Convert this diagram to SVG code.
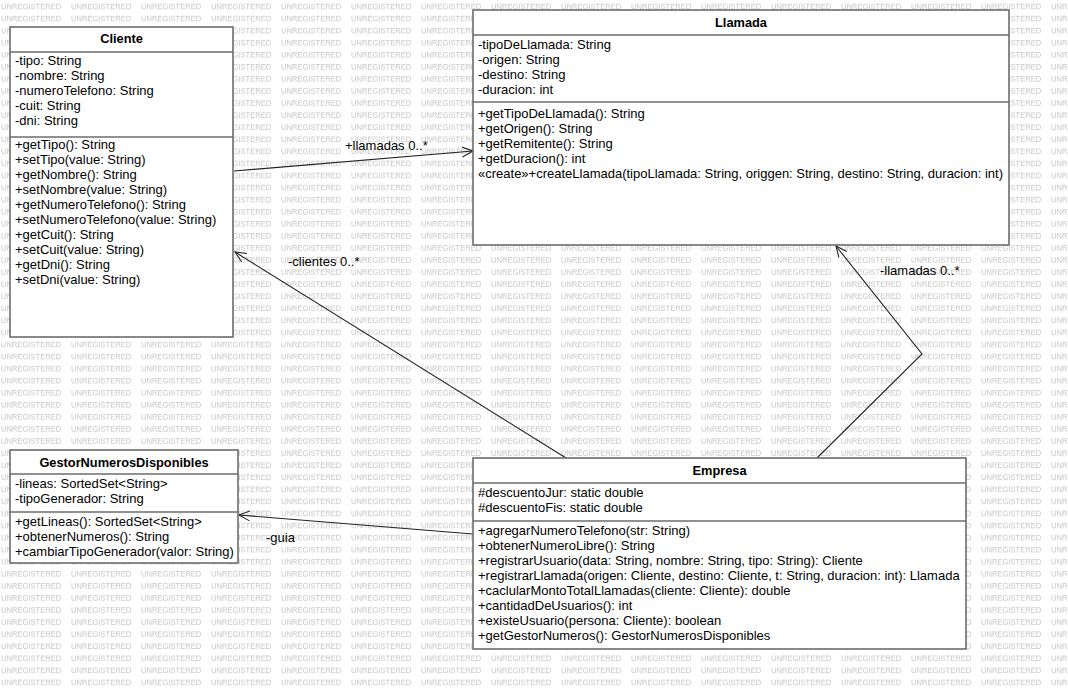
<svg xmlns="http://www.w3.org/2000/svg" width="1068" height="689" viewBox="0 0 1068 689">
<style>
.box{fill:#fff;stroke:#6c6c6c;stroke-width:1.6}
.sep{stroke:#6c6c6c;stroke-width:1.6}
.t{font-family:"Liberation Sans",Arial,sans-serif;font-size:13px;fill:#000}
.h{font-family:"Liberation Sans",Arial,sans-serif;font-size:12.8px;font-weight:bold;fill:#000;text-anchor:middle}
.wm{font-family:"Liberation Sans",Arial,sans-serif;font-size:7.6px;fill:#c6c6c6}
.edge{fill:none;stroke:#222;stroke-width:1.1}
</style>
<defs>
<pattern id="wmark" patternUnits="userSpaceOnUse" x="0" y="0" width="70" height="12.07">
<text class="wm" x="1" y="9.3">UNREGISTERED</text>
</pattern>
<marker id="open" viewBox="0 0 12 12" refX="11" refY="6" markerWidth="12" markerHeight="12" markerUnits="userSpaceOnUse" orient="auto">
<path d="M0,1 L11,6 L0,11" fill="none" stroke="#222" stroke-width="1.1"/>
</marker>
</defs>
<rect width="1068" height="689" fill="#fff"/>
<rect width="1068" height="689" fill="url(#wmark)"/>

<g id="connectors">
<g id="e-llamadas">
<line class="edge" x1="234" y1="171" x2="473" y2="151" marker-end="url(#open)"/>
<text class="t" x="345" y="150">+llamadas 0..*</text>
</g>
<g id="e-clientes">
<line class="edge" x1="566" y1="458" x2="235" y2="252" marker-end="url(#open)"/>
<text class="t" x="288" y="266">-clientes 0..*</text>
</g>
<g id="e-llamadas2">
<polyline class="edge" points="817,458 922,354 836,246" marker-end="url(#open)"/>
<text class="t" x="880" y="275">-llamadas 0..*</text>
</g>
<g id="e-guia">
<line class="edge" x1="473" y1="534" x2="239" y2="515" marker-end="url(#open)"/>
<text class="t" x="266" y="542">-guia</text>
</g>
</g>

<g id="Cliente">
<rect class="box" x="10" y="27" width="223" height="310"/>
<line class="sep" x1="10" y1="52" x2="233" y2="52"/>
<line class="sep" x1="10" y1="137" x2="233" y2="137"/>
<text class="h" x="121.5" y="43">Cliente</text>
<text class="t" x="15" y="65">-tipo: String</text>
<text class="t" x="15" y="80">-nombre: String</text>
<text class="t" x="15" y="95">-numeroTelefono: String</text>
<text class="t" x="15" y="110">-cuit: String</text>
<text class="t" x="15" y="125">-dni: String</text>
<text class="t" x="15" y="149">+getTipo(): String</text>
<text class="t" x="15" y="164">+setTipo(value: String)</text>
<text class="t" x="15" y="179">+getNombre(): String</text>
<text class="t" x="15" y="194">+setNombre(value: String)</text>
<text class="t" x="15" y="209">+getNumeroTelefono(): String</text>
<text class="t" x="15" y="224">+setNumeroTelefono(value: String)</text>
<text class="t" x="15" y="239">+getCuit(): String</text>
<text class="t" x="15" y="254">+setCuit(value: String)</text>
<text class="t" x="15" y="269">+getDni(): String</text>
<text class="t" x="15" y="284">+setDni(value: String)</text>
</g>

<g id="Llamada">
<rect class="box" x="473" y="10" width="536" height="235"/>
<line class="sep" x1="473" y1="35" x2="1009" y2="35"/>
<line class="sep" x1="473" y1="102" x2="1009" y2="102"/>
<text class="h" x="741" y="27">Llamada</text>
<text class="t" x="478" y="49">-tipoDeLlamada: String</text>
<text class="t" x="478" y="64">-origen: String</text>
<text class="t" x="478" y="79">-destino: String</text>
<text class="t" x="478" y="94">-duracion: int</text>
<text class="t" x="478" y="118">+getTipoDeLlamada(): String</text>
<text class="t" x="478" y="133">+getOrigen(): String</text>
<text class="t" x="478" y="148">+getRemitente(): String</text>
<text class="t" x="478" y="163">+getDuracion(): int</text>
<text class="t" x="478" y="178">«create»+createLlamada(tipoLlamada: String, origgen: String, destino: String, duracion: int)</text>
</g>

<g id="GestorNumerosDisponibles">
<rect class="box" x="10" y="450" width="228" height="113"/>
<line class="sep" x1="10" y1="474" x2="238" y2="474"/>
<line class="sep" x1="10" y1="512" x2="238" y2="512"/>
<text class="h" x="124" y="467">GestorNumerosDisponibles</text>
<text class="t" x="15" y="488">-lineas: SortedSet&lt;String&gt;</text>
<text class="t" x="15" y="503">-tipoGenerador: String</text>
<text class="t" x="15" y="526">+getLineas(): SortedSet&lt;String&gt;</text>
<text class="t" x="15" y="541">+obtenerNumeros(): String</text>
<text class="t" x="15" y="556">+cambiarTipoGenerador(valor: String)</text>
</g>

<g id="Empresa">
<rect class="box" x="473" y="458" width="493" height="191"/>
<line class="sep" x1="473" y1="483" x2="966" y2="483"/>
<line class="sep" x1="473" y1="521" x2="966" y2="521"/>
<text class="h" x="719.5" y="475">Empresa</text>
<text class="t" x="478" y="497">#descuentoJur: static double</text>
<text class="t" x="478" y="512">#descuentoFis: static double</text>
<text class="t" x="478" y="535">+agregarNumeroTelefono(str: String)</text>
<text class="t" x="478" y="550">+obtenerNumeroLibre(): String</text>
<text class="t" x="478" y="565">+registrarUsuario(data: String, nombre: String, tipo: String): Cliente</text>
<text class="t" x="478" y="580">+registrarLlamada(origen: Cliente, destino: Cliente, t: String, duracion: int): Llamada</text>
<text class="t" x="478" y="595">+caclularMontoTotalLlamadas(cliente: Cliente): double</text>
<text class="t" x="478" y="610">+cantidadDeUsuarios(): int</text>
<text class="t" x="478" y="625">+existeUsuario(persona: Cliente): boolean</text>
<text class="t" x="478" y="640">+getGestorNumeros(): GestorNumerosDisponibles</text>
</g>
</svg>
